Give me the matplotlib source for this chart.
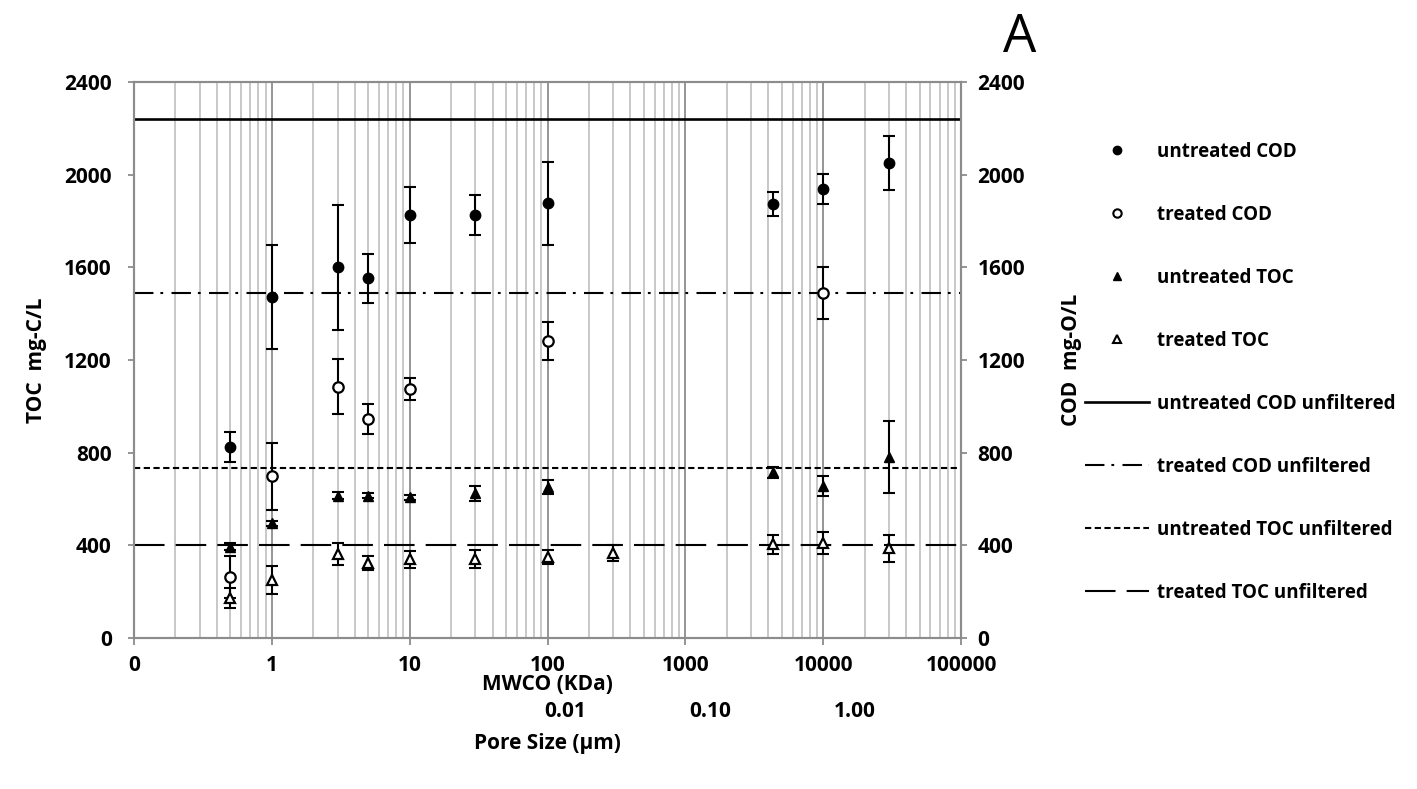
import matplotlib
matplotlib.use("Agg")
import matplotlib.pyplot as plt
from matplotlib.ticker import FixedLocator, FixedFormatter, LogLocator, NullFormatter
from matplotlib.lines import Line2D

plt.rcParams['font.family'] = ['Open Sans', 'DejaVu Sans']
plt.rcParams['font.weight'] = 'bold'
plt.rcParams['lines.scale_dashes'] = False

# ---------------- data ----------------
x_ucod = [0.5, 1, 3, 5, 10, 30, 100, 4300, 10000, 30000]
y_ucod = [825, 1473, 1601, 1552, 1826, 1826, 1876, 1875, 1938, 2051]
e_ucod = [65, 225, 270, 105, 120, 85, 178, 52, 64, 117]

x_tcod = [0.5, 1, 3, 5, 10, 100, 10000]
y_tcod = [262, 698, 1085, 947, 1075, 1283, 1488]
e_tcod = [90, 145, 120, 65, 47, 82, 112]

x_utoc = [0.5, 1, 3, 5, 10, 30, 100, 4300, 10000, 30000]
y_utoc = [394, 495, 614, 614, 607, 624, 653, 715, 657, 782]
e_utoc = [15, 10, 15, 10, 10, 32, 30, 25, 42, 155]

x_ttoc = [0.5, 1, 3, 5, 10, 30, 100, 300, 4300, 10000, 30000]
y_ttoc = [173, 250, 361, 322, 340, 341, 351, 366, 404, 409, 387]
e_ttoc = [42, 60, 48, 30, 37, 37, 30, 35, 40, 48, 58]

unfiltered_labels = ['untreated COD unfiltered', 'treated COD unfiltered',
                     'untreated TOC unfiltered', 'treated TOC unfiltered']
unfiltered_values = [2240, 1490, 735, 400]

x_ticks = [0.1, 1, 10, 100, 1000, 10000, 100000]
x_ticklabels = ['0', '1', '10', '100', '1000', '10000', '100000']
y_ticks = [0, 400, 800, 1200, 1600, 2000, 2400]
pore_ticks = [0.01, 0.1, 1.0]
pore_ticklabels = ['0.01', '0.10', '1.00']

# ---------------- figure ----------------
W, H = 1417, 789
fig = plt.figure(figsize=(W / 100, H / 100), dpi=100)
L, R, B, T = 134, 961, 638, 82
ax = fig.add_axes([L / W, 1 - B / H, (R - L) / W, (B - T) / H])

ax.set_xscale('log')
ax.set_xlim(0.1, 100000)
ax.set_ylim(0, 2400)

grid_major = '#8c8c8c'
grid_minor = '#c4c4c4'
spine_c = '#8c8c8c'

ax.xaxis.set_major_locator(FixedLocator(x_ticks))
ax.xaxis.set_major_formatter(FixedFormatter(x_ticklabels))
ax.xaxis.set_minor_locator(LogLocator(base=10, subs=range(2, 10), numticks=20))
ax.xaxis.set_minor_formatter(NullFormatter())
ax.grid(True, which='major', axis='x', color=grid_major, lw=1.3)
ax.grid(True, which='minor', axis='x', color=grid_minor, lw=1.3)
ax.set_axisbelow(True)
ax.set_yticks(y_ticks)

for s in ax.spines.values():
    s.set_color(spine_c)
    s.set_linewidth(1.5)

FS = 15
ax.tick_params(axis='x', which='major', direction='out', length=5, width=1.3,
               color=spine_c, labelsize=FS, pad=7)
ax.tick_params(axis='x', which='minor', length=0)
ax.tick_params(axis='y', direction='out', length=4, width=1.3, color=spine_c,
               labelsize=FS, pad=12)
for lab in ax.get_xticklabels() + ax.get_yticklabels():
    lab.set_fontweight('bold')

# unfiltered reference lines
styles = [
    dict(ls='-', lw=1.9),
    dict(ls=(0, (14, 5, 2, 6)), lw=1.5),
    dict(ls=(0, (4.5, 2.5)), lw=1.5),
    dict(ls=(0, (22, 8)), lw=1.5),
]
for val, lab, st in zip(unfiltered_values, unfiltered_labels, styles):
    ax.axhline(val, color='black', label=lab, zorder=2, **st)

# error bars and markers
eb_kw = dict(fmt='none', ecolor='black', elinewidth=1.5, capsize=4.5, capthick=1.5, zorder=3)
ax.errorbar(x_ucod, y_ucod, yerr=e_ucod, **eb_kw)
ax.errorbar(x_tcod, y_tcod, yerr=e_tcod, **eb_kw)
ax.errorbar(x_utoc, y_utoc, yerr=e_utoc, **eb_kw)
ax.errorbar(x_ttoc, y_ttoc, yerr=e_ttoc, **eb_kw)

ax.plot(x_ucod, y_ucod, 'o', ms=7.5, mfc='black', mec='black', zorder=4)
ax.plot(x_tcod, y_tcod, 'o', ms=7.5, mfc='white', mec='black', mew=1.6, zorder=4)
ax.plot(x_utoc, y_utoc, '^', ms=7, mfc='black', mec='black', zorder=4)
ax.plot(x_ttoc, y_ttoc, '^', ms=7, mfc='white', mec='black', mew=1.6, zorder=4)

ax.set_ylabel('TOC  mg-C/L', fontsize=FS, fontweight='bold', labelpad=12)
ax.set_xlabel('MWCO (KDa)', fontsize=FS, fontweight='bold', labelpad=-1)

# right axis
ax2 = ax.twinx()
ax2.set_ylim(0, 2400)
ax2.set_yticks(y_ticks)
ax2.tick_params(axis='y', direction='out', length=4, width=1.3, color=spine_c,
                labelsize=FS, pad=8)
for lab in ax2.get_yticklabels():
    lab.set_fontweight('bold')
for s in ax2.spines.values():
    s.set_color(spine_c)
    s.set_linewidth(1.5)
ax2.set_ylabel('COD  mg-O/L', fontsize=FS, fontweight='bold', labelpad=26)

# secondary pore size axis
px_per_dec = 145.0
x001 = 565.0
left_val = 0.01 * 10 ** (-(x001 - L) / px_per_dec)
right_val = left_val * 10 ** ((R - L) / px_per_dec)
axp = fig.add_axes([L / W, 1 - 701 / H, (R - L) / W, 0.0001])
axp.set_xscale('log')
axp.set_xlim(left_val, right_val)
axp.set_yticks([])
for s in axp.spines.values():
    s.set_visible(False)
axp.patch.set_alpha(0)
axp.xaxis.set_major_locator(FixedLocator(pore_ticks))
axp.xaxis.set_major_formatter(FixedFormatter(pore_ticklabels))
axp.xaxis.set_minor_locator(FixedLocator([]))
axp.tick_params(axis='x', length=0, labelsize=FS, pad=0)
for lab in axp.get_xticklabels():
    lab.set_fontweight('bold')
axp.set_xlabel('Pore Size (µm)', fontsize=FS, fontweight='bold', labelpad=8)

# legend
handles = [
    Line2D([], [], ls='none', marker='o', ms=6, mfc='black', mec='black'),
    Line2D([], [], ls='none', marker='o', ms=6, mfc='white', mec='black', mew=1.5),
    Line2D([], [], ls='none', marker='^', ms=6, mfc='black', mec='black'),
    Line2D([], [], ls='none', marker='^', ms=6, mfc='white', mec='black', mew=1.5),
] + [Line2D([], [], color='black', **st) for st in styles]
labels = ['untreated COD', 'treated COD', 'untreated TOC', 'treated TOC'] + unfiltered_labels
leg = fig.legend(handles, labels, loc='upper left',
                 bbox_to_anchor=(1085 / W, 1 - 142 / H),
                 frameon=False, fontsize=13.5, handlelength=3.4, handletextpad=0.45,
                 labelspacing=2.29, borderaxespad=0, borderpad=0)
for t in leg.get_texts():
    t.set_fontweight('bold')

fig.text(1020 / W, 1 - 38 / H, 'A', fontsize=38, fontweight='normal',
         ha='center', va='center')

fig.savefig('out.png', dpi=100)
